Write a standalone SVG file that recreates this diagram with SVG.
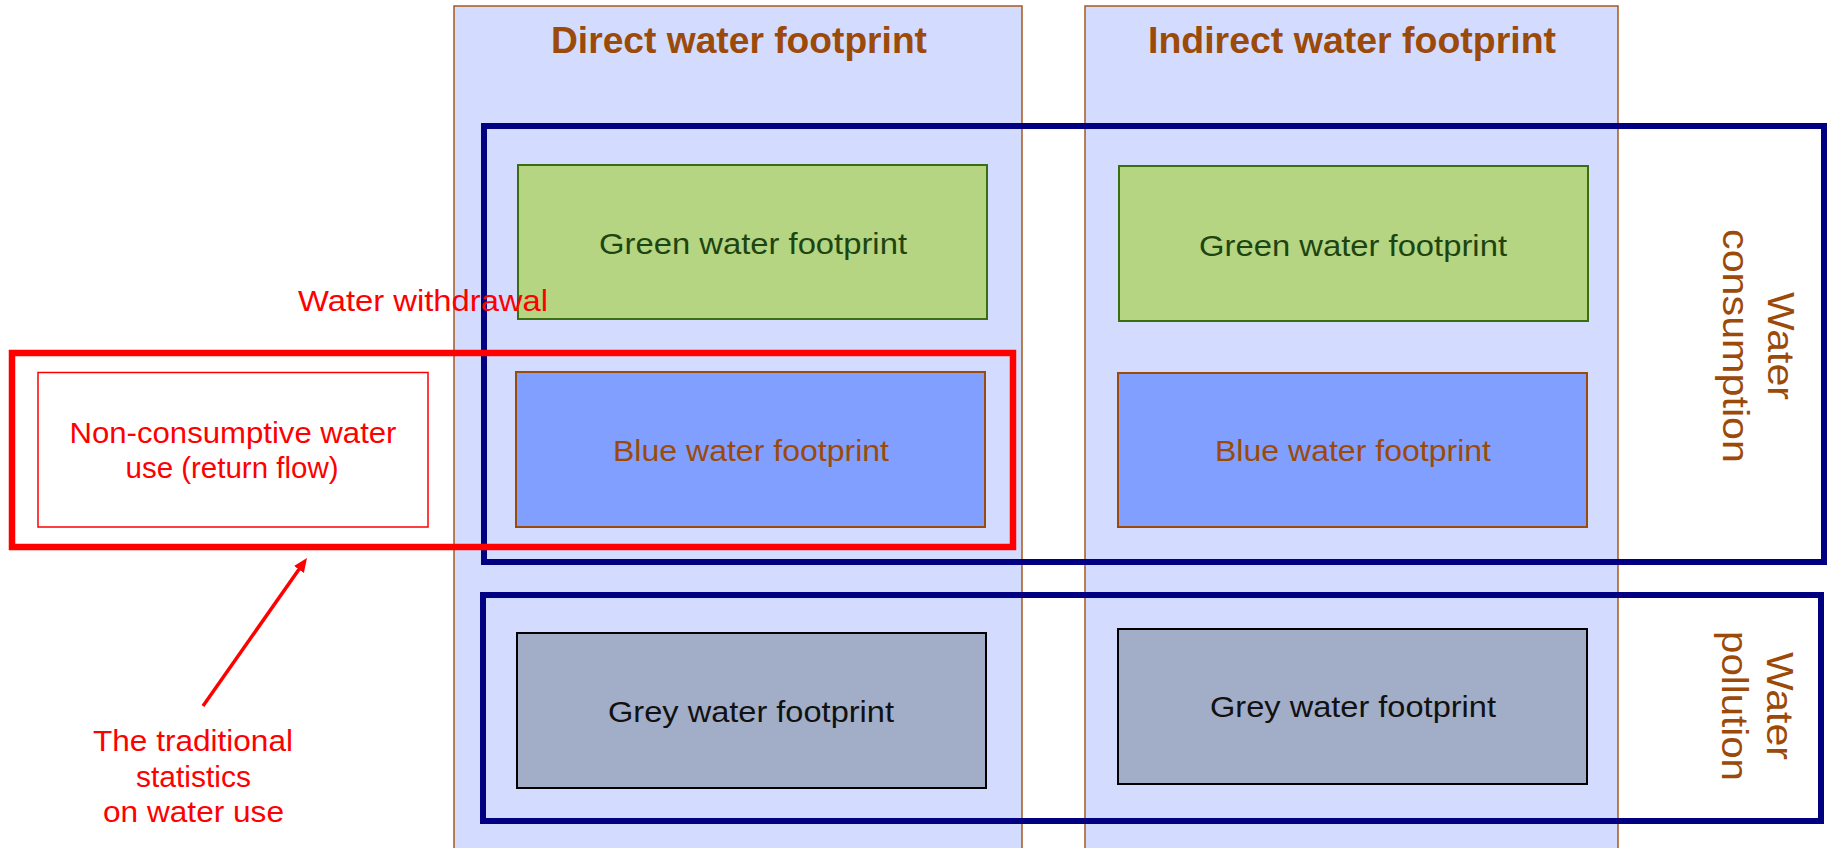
<svg xmlns="http://www.w3.org/2000/svg" width="1829" height="848" viewBox="0 0 1829 848">
<style>
text{font-family:"Liberation Sans",Arial,sans-serif;}
.col{fill:#D3DCFE;stroke:#A65A1E;stroke-width:1.5;}
.title{font-size:37px;font-weight:bold;fill:#9B4A0A;text-anchor:middle;}
.lbl{font-size:29px;text-anchor:middle;}
.green{fill:#B5D583;stroke:#3B6E10;stroke-width:2;}
.blue{fill:#819FFE;stroke:#9B4A0A;stroke-width:2;}
.grey{fill:#A2ADC8;stroke:#000;stroke-width:2;}
.navy{fill:none;stroke:#000080;stroke-width:6;}
.red{fill:#FF0000;}
.brown{fill:#9B4A0A;}
.rot{font-size:37px;text-anchor:middle;fill:#9B4A0A;}
</style>
<defs>
<marker id="ah" markerUnits="userSpaceOnUse" markerWidth="16" markerHeight="14" refX="2" refY="6" orient="auto">
<path d="M0,0 L14,6 L0,12 z" fill="#FF0000"/>
</marker>
</defs>
<rect width="1829" height="848" fill="#fff"/>
<g id="col-direct">
<rect class="col" x="454" y="6" width="568" height="850"/>
<text class="title" x="739" y="53" textLength="376" lengthAdjust="spacingAndGlyphs">Direct water footprint</text>
</g>
<g id="col-indirect">
<rect class="col" x="1085" y="6" width="533" height="850"/>
<text class="title" x="1352" y="53" textLength="408" lengthAdjust="spacingAndGlyphs">Indirect water footprint</text>
</g>
<g id="green-direct">
<rect class="green" x="518" y="165" width="469" height="154"/>
<text class="lbl" x="753" y="254" fill="#1E4510" textLength="308" lengthAdjust="spacingAndGlyphs">Green water footprint</text>
</g>
<g id="green-indirect">
<rect class="green" x="1119" y="166" width="469" height="155"/>
<text class="lbl" x="1353" y="256" fill="#1E4510" textLength="308" lengthAdjust="spacingAndGlyphs">Green water footprint</text>
</g>
<g id="blue-direct">
<rect class="blue" x="516" y="372" width="469" height="155"/>
<text class="lbl brown" x="751" y="461" textLength="276" lengthAdjust="spacingAndGlyphs">Blue water footprint</text>
</g>
<g id="blue-indirect">
<rect class="blue" x="1118" y="373" width="469" height="154"/>
<text class="lbl brown" x="1353" y="461" textLength="276" lengthAdjust="spacingAndGlyphs">Blue water footprint</text>
</g>
<g id="grey-direct">
<rect class="grey" x="517" y="633" width="469" height="155"/>
<text class="lbl" x="751" y="722" fill="#111" textLength="286" lengthAdjust="spacingAndGlyphs">Grey water footprint</text>
</g>
<g id="grey-indirect">
<rect class="grey" x="1118" y="629" width="469" height="155"/>
<text class="lbl" x="1353" y="717" fill="#111" textLength="286" lengthAdjust="spacingAndGlyphs">Grey water footprint</text>
</g>
<g id="water-consumption">
<rect class="navy" x="484" y="126" width="1340" height="436"/>
<text class="rot" transform="translate(1768,346) rotate(90)"><tspan x="0" y="0" textLength="108" lengthAdjust="spacingAndGlyphs">Water</tspan><tspan x="0" y="45" textLength="234" lengthAdjust="spacingAndGlyphs">consumption</tspan></text>
</g>
<g id="water-pollution">
<rect class="navy" x="483" y="595" width="1338" height="226"/>
<text class="rot" transform="translate(1767,706) rotate(90)"><tspan x="0" y="0" textLength="108" lengthAdjust="spacingAndGlyphs">Water</tspan><tspan x="0" y="45" textLength="150" lengthAdjust="spacingAndGlyphs">pollution</tspan></text>
</g>
<g id="water-withdrawal">
<rect x="12" y="353" width="1001" height="194" fill="none" stroke="#FF0000" stroke-width="6.5"/>
<text class="lbl red" x="423" y="311" textLength="250" lengthAdjust="spacingAndGlyphs">Water withdrawal</text>
</g>
<g id="non-consumptive">
<rect x="38" y="372.5" width="390" height="154.5" fill="none" stroke="#FF0000" stroke-width="1.5"/>
<text class="lbl red" x="233" y="443" textLength="327" lengthAdjust="spacingAndGlyphs">Non-consumptive water</text>
<text class="lbl red" x="232" y="478" textLength="213" lengthAdjust="spacingAndGlyphs">use (return flow)</text>
</g>
<g id="traditional-statistics">
<text class="lbl red" x="193" y="751" textLength="200" lengthAdjust="spacingAndGlyphs">The traditional</text>
<text class="lbl red" x="193.5" y="787" textLength="115" lengthAdjust="spacingAndGlyphs">statistics</text>
<text class="lbl red" x="193.5" y="822" textLength="181" lengthAdjust="spacingAndGlyphs">on water use</text>
</g>
<g id="connectors">
<line x1="203" y1="706" x2="300.1" y2="567.8" stroke="#FF0000" stroke-width="3.5" marker-end="url(#ah)"/>
</g>
</svg>
